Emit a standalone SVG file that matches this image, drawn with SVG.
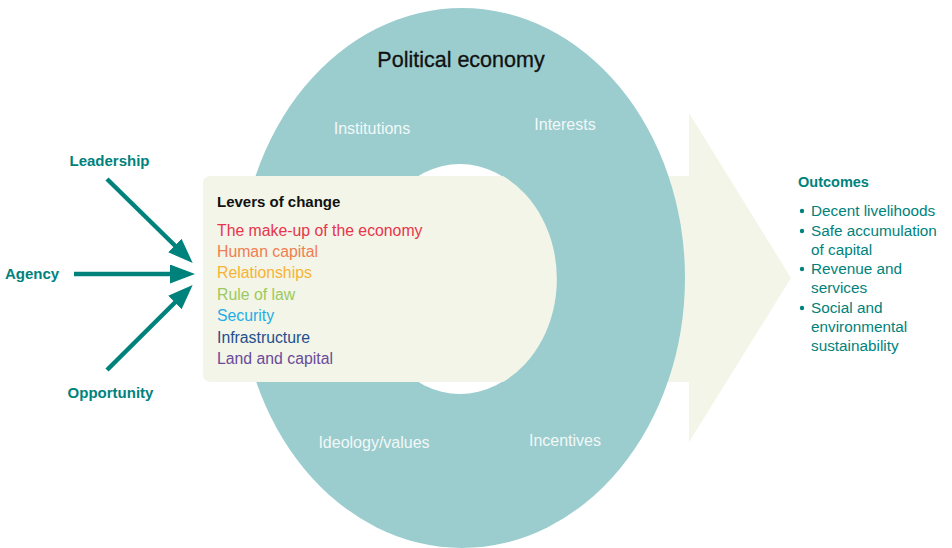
<svg xmlns="http://www.w3.org/2000/svg" width="952" height="548" viewBox="0 0 952 548">
<defs>
<style>
text{font-family:"Liberation Sans",Arial,sans-serif}
.teal{fill:#00827C}
.lbl{font-size:15px;font-weight:bold;fill:#00827C}
.pe{font-size:16px;fill:#F2F8F8}
.lev{font-size:15.8px}
.out{font-size:15.3px;fill:#00827C}
.conn{stroke:#00827C;stroke-width:4.5;fill:none;marker-end:url(#ah)}
</style>
<marker id="ah" viewBox="0 0 25 19" refX="10" refY="9.5" markerWidth="25" markerHeight="19" markerUnits="userSpaceOnUse" orient="auto">
<path d="M0,0 L25,9.5 L0,19 Z" fill="#00827C"/>
</marker>
</defs>
<rect width="952" height="548" fill="#FFFFFF"/>

<g id="big-arrow">
<rect x="460" y="176" width="230" height="206" fill="#F2F5E7"/>
<polygon points="689,113 791,278 689,442" fill="#F2F5E7"/>
</g>

<g id="political-economy">
<ellipse cx="462" cy="278" rx="223" ry="270" fill="#9BCDCE"/>
<ellipse cx="460" cy="279" rx="94" ry="115" fill="#FFFFFF"/>
<text x="461" y="67" text-anchor="middle" font-size="21.5" fill="#111111" stroke="#111111" stroke-width="0.3">Political economy</text>
<text class="pe" x="372" y="134" text-anchor="middle">Institutions</text>
<text class="pe" x="565" y="130" text-anchor="middle">Interests</text>
<text class="pe" x="374" y="448" text-anchor="middle">Ideology/values</text>
<text class="pe" x="565" y="446" text-anchor="middle">Incentives</text>
</g>

<g id="levers">
<path d="M211,176 H503 A97,115 0 0 1 503,382 H211 Q203,382 203,374 V184 Q203,176 211,176 Z" fill="#F2F5E7"/>
<text x="217" y="207" font-size="15" font-weight="bold" fill="#111111">Levers of change</text>
<text class="lev" x="217" y="236" fill="#E8344C">The make-up of the economy</text>
<text class="lev" x="217" y="257" fill="#F07E52">Human capital</text>
<text class="lev" x="217" y="278" fill="#F8B334">Relationships</text>
<text class="lev" x="217" y="299.5" fill="#9DC95C">Rule of law</text>
<text class="lev" x="217" y="321" fill="#1EADE6">Security</text>
<text class="lev" x="217" y="342.5" fill="#1F4F8E">Infrastructure</text>
<text class="lev" x="217" y="364" fill="#6B4A9B">Land and capital</text>
</g>

<g id="leadership"><text class="lbl" x="109.5" y="166" text-anchor="middle">Leadership</text></g>
<g id="agency"><text class="lbl" x="32" y="279" text-anchor="middle">Agency</text></g>
<g id="opportunity"><text class="lbl" x="110.5" y="398" text-anchor="middle">Opportunity</text></g>

<g id="outcomes">
<text x="798" y="187" font-size="14.5" font-weight="bold" class="teal">Outcomes</text>
<g class="out">
<circle cx="802" cy="211" r="2.2" class="teal"/>
<text x="811" y="215.5">Decent livelihoods</text>
<circle cx="802" cy="231" r="2.2" class="teal"/>
<text x="811" y="235.5">Safe accumulation</text>
<text x="811" y="254.5">of capital</text>
<circle cx="802" cy="269" r="2.2" class="teal"/>
<text x="811" y="273.5">Revenue and</text>
<text x="811" y="293">services</text>
<circle cx="802" cy="308" r="2.2" class="teal"/>
<text x="811" y="312.5">Social and</text>
<text x="811" y="331.5">environmental</text>
<text x="811" y="350.5">sustainability</text>
</g>
</g>

<g id="connectors">
<line class="conn" x1="107" y1="179" x2="182" y2="252.5"/>
<line class="conn" x1="74" y1="274" x2="180" y2="274"/>
<line class="conn" x1="107" y1="370" x2="182" y2="295.5"/>
</g>
</svg>
